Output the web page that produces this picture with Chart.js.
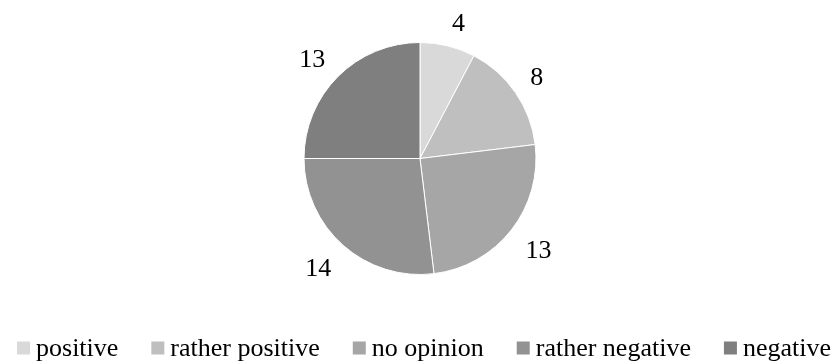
<!DOCTYPE html>
<html>
<head>
<meta charset="utf-8">
<script src="https://cdn.jsdelivr.net/npm/chart.js@4.4.1/dist/chart.umd.min.js"></script>
<style>
  html, body { margin: 0; padding: 0; background: #ffffff; }
  #wrap { width: 837px; height: 361px; position: relative; }
</style>
</head>
<body>
<div id="wrap"><canvas id="c" width="837" height="361"></canvas></div>
<script>
const categories = ['positive', 'rather positive', 'no opinion', 'rather negative', 'negative'];
const values = [4, 8, 13, 14, 13];
const colors = ['#d9d9d9', '#bfbfbf', '#a6a6a6', '#929292', '#7f7f7f'];

const FONT = '26px "Liberation Serif", "Times New Roman", serif';

const outsideLabels = {
  id: 'outsideLabels',
  afterDatasetsDraw(chart) {
    const ctx = chart.ctx;
    const meta = chart.getDatasetMeta(0);
    const ds = chart.data.datasets[0];
    ctx.save();
    ctx.font = FONT;
    ctx.fillStyle = '#000000';
    ctx.textAlign = 'center';
    ctx.textBaseline = 'middle';
    meta.data.forEach((arc, i) => {
      const p = arc.getProps(['x', 'y', 'startAngle', 'endAngle', 'outerRadius'], true);
      const mid = (p.startAngle + p.endAngle) / 2;
      const ux = Math.cos(mid), uy = Math.sin(mid);
      const txt = String(ds.data[i]);
      const w = ctx.measureText(txt).width;
      const d = p.outerRadius + 18;
      const tx = p.x + d * ux + Math.sign(ux) * w / 2;
      const ty = p.y + d * uy + Math.sign(uy) * 7 + 3;
      ctx.fillText(txt, tx, ty);
    });
    ctx.restore();
  }
};

const customLegend = {
  id: 'customLegend',
  afterDraw(chart, args, opts) {
    const ctx = chart.ctx;
    const labels = chart.data.labels;
    const bg = chart.data.datasets[0].backgroundColor;
    ctx.save();
    ctx.font = FONT;
    ctx.textBaseline = 'middle';
    ctx.textAlign = 'left';
    const box = opts.box, gap = opts.gap, spacing = opts.spacing;
    const widths = labels.map(l => box + gap + ctx.measureText(l).width);
    const total = widths.reduce((a, b) => a + b, 0) + spacing * (labels.length - 1);
    let x = opts.centerX - total / 2;
    const y = opts.y;
    labels.forEach((l, i) => {
      ctx.fillStyle = bg[i];
      ctx.fillRect(x, y - box / 2, box, box);
      ctx.fillStyle = '#000000';
      ctx.fillText(l, x + box + gap, y + 1);
      x += widths[i] + spacing;
    });
    ctx.restore();
  }
};

new Chart(document.getElementById('c'), {
  type: 'pie',
  data: {
    labels: categories,
    datasets: [{
      data: values,
      backgroundColor: colors,
      borderColor: '#ffffff',
      borderWidth: 1
    }]
  },
  options: {
    responsive: false,
    animation: false,
    layout: { padding: { top: 42, bottom: 86, left: 3, right: 0 } },
    plugins: {
      legend: { display: false },
      tooltip: { enabled: false },
      customLegend: { box: 13, gap: 6, spacing: 33, centerX: 424, y: 348 }
    }
  },
  plugins: [outsideLabels, customLegend]
});
</script>
</body>
</html>
